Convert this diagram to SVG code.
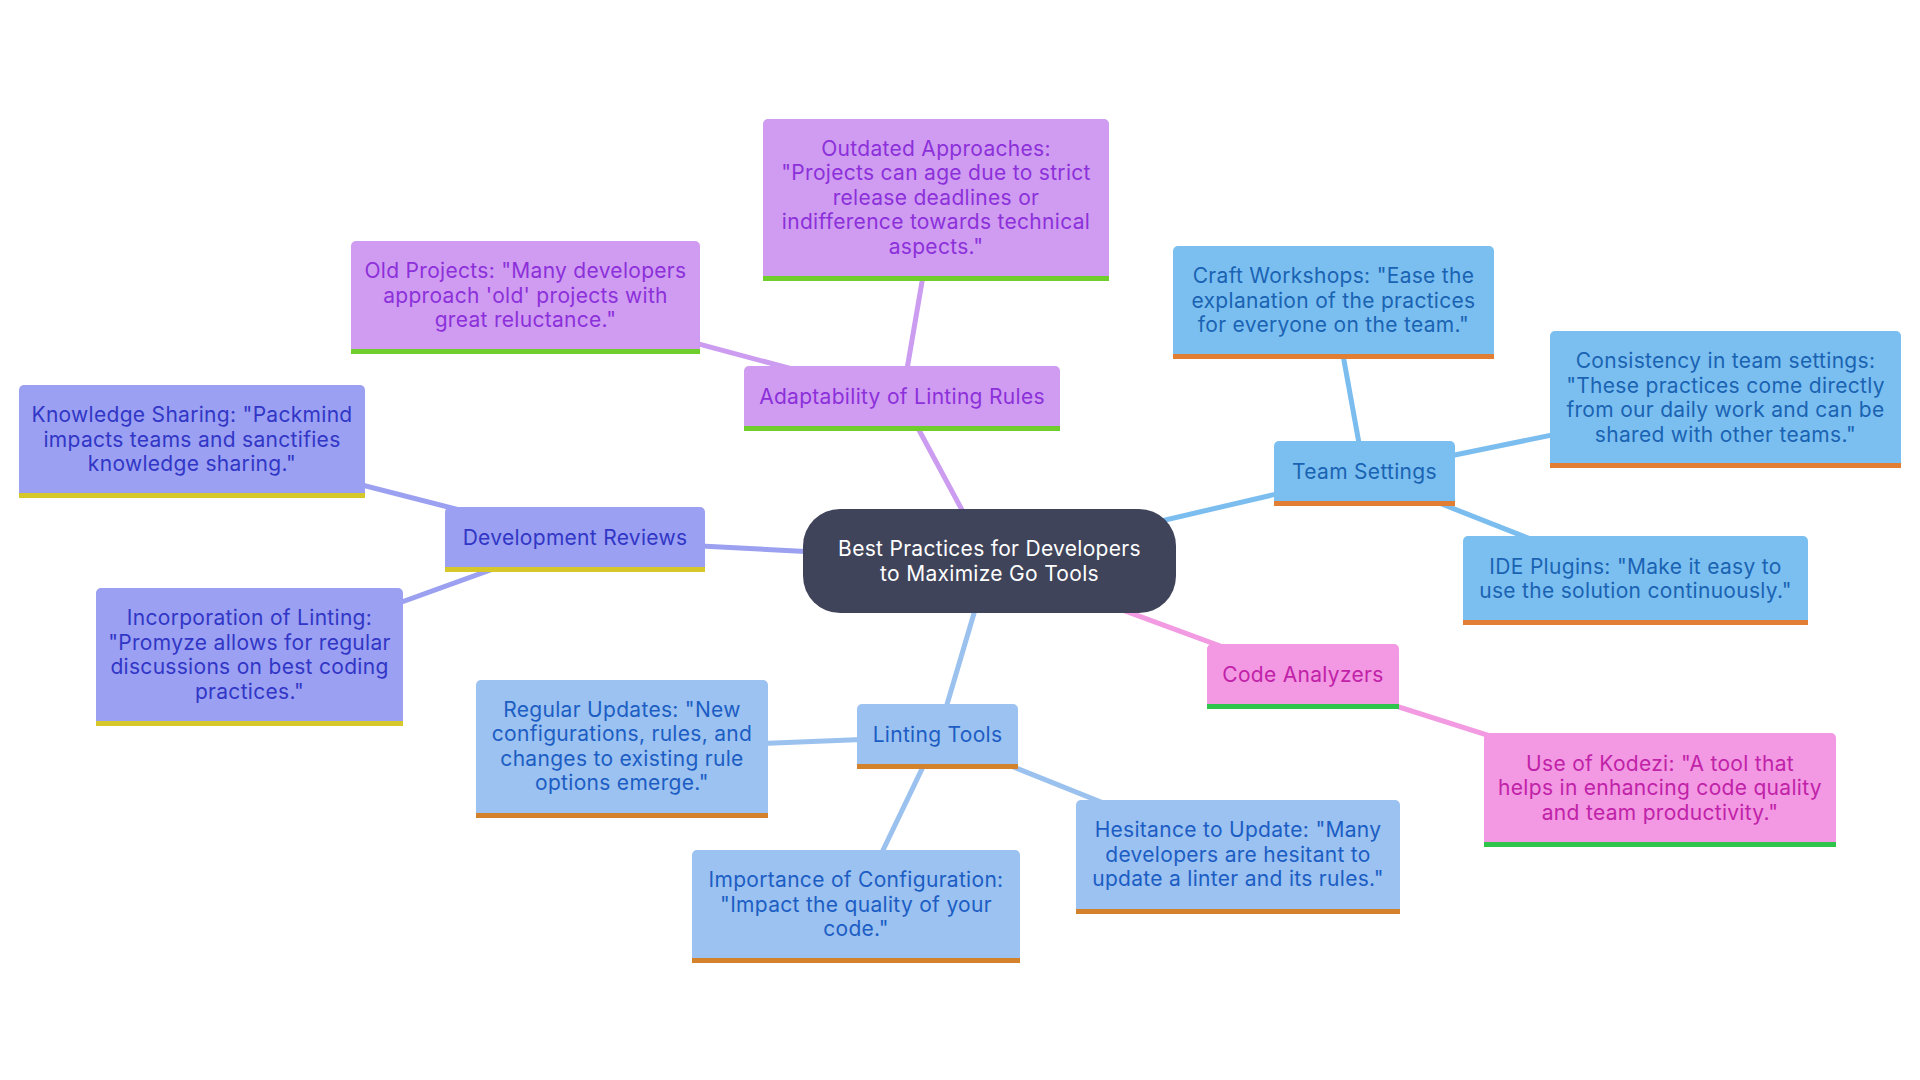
<svg xmlns="http://www.w3.org/2000/svg" width="1920" height="1080" viewBox="0 0 1920 1080">
<style>
text{font-family:Inter,"Noto Sans","Liberation Sans",sans-serif;font-size:21px;letter-spacing:0.3px;text-anchor:middle}
.c{stroke-width:5;fill:none;stroke-linecap:round}
.cp{stroke:#cb9cf0}.ct{stroke:#7bbdef}.cl{stroke:#9bc1ee}.cd{stroke:#9ba0f0}.ck{stroke:#f29ae2}
.fp{fill:#cf9cf1}.tp{fill:#8c30da}.bp{fill:#6fcd2c}
.ft{fill:#7bbff1}.tt{fill:#1a63b2}.bt{fill:#e27e34}
.fl{fill:#9bc2f0}.tl{fill:#1c5dc4}.bl{fill:#d3822b}
.fd{fill:#9ba0f2}.td{fill:#3136c6}.bd{fill:#d6c72b}
.fk{fill:#f398e3}.tk{fill:#c022a8}.bk{fill:#2fc44c}
.fc{fill:#40445a}.tc{fill:#ffffff}
</style>
<rect width="1920" height="1080" fill="#ffffff"/>
<g id="connectors">
<line class="c cp" x1="989.5" y1="561" x2="902" y2="398.5"/>
<line class="c cp" x1="902" y1="398.5" x2="936" y2="200"/>
<line class="c cp" x1="902" y1="398.5" x2="525.5" y2="297.5"/>
<line class="c ct" x1="989.5" y1="561" x2="1364.5" y2="473.5"/>
<line class="c ct" x1="1364.5" y1="473.5" x2="1333.5" y2="302.5"/>
<line class="c ct" x1="1364.5" y1="473.5" x2="1725.5" y2="399.5"/>
<line class="c ct" x1="1364.5" y1="473.5" x2="1635.5" y2="580.5"/>
<line class="c ck" x1="989.5" y1="561" x2="1303" y2="676.5"/>
<line class="c ck" x1="1303" y1="676.5" x2="1660" y2="790"/>
<line class="c cl" x1="989.5" y1="561" x2="937.5" y2="736.5"/>
<line class="c cl" x1="937.5" y1="736.5" x2="622" y2="749"/>
<line class="c cl" x1="937.5" y1="736.5" x2="856" y2="906.5"/>
<line class="c cl" x1="937.5" y1="736.5" x2="1238" y2="857"/>
<line class="c cd" x1="989.5" y1="561" x2="575" y2="539.5"/>
<line class="c cd" x1="575" y1="539.5" x2="192" y2="441.5"/>
<line class="c cd" x1="575" y1="539.5" x2="249.5" y2="657"/>
</g>
<g id="center">
<rect class="fc" x="803" y="509" width="373" height="104" rx="37"/>
<text class="tc"><tspan x="989.5" y="556">Best Practices for Developers</tspan><tspan x="989.5" y="580.5">to Maximize Go Tools</tspan></text>
</g>
<g id="adaptability">
<rect class="fp" x="744" y="366" width="316" height="65" rx="5"/><rect class="bp" x="744" y="426" width="316" height="5"/>
<text class="tp"><tspan x="902" y="403.5">Adaptability of Linting Rules</tspan></text>
</g>
<g id="outdated">
<rect class="fp" x="763" y="119" width="346" height="162" rx="5"/><rect class="bp" x="763" y="276" width="346" height="5"/>
<text class="tp"><tspan x="936" y="155.5">Outdated Approaches:</tspan><tspan x="936" y="180">"Projects can age due to strict</tspan><tspan x="936" y="204.5">release deadlines or</tspan><tspan x="936" y="229">indifference towards technical</tspan><tspan x="936" y="253.5">aspects."</tspan></text>
</g>
<g id="old-projects">
<rect class="fp" x="351" y="241" width="349" height="113" rx="5"/><rect class="bp" x="351" y="349" width="349" height="5"/>
<text class="tp"><tspan x="525.5" y="278">Old Projects: "Many developers</tspan><tspan x="525.5" y="302.5">approach 'old' projects with</tspan><tspan x="525.5" y="327">great reluctance."</tspan></text>
</g>
<g id="team-settings">
<rect class="ft" x="1274" y="441" width="181" height="65" rx="5"/><rect class="bt" x="1274" y="501" width="181" height="5"/>
<text class="tt"><tspan x="1364.5" y="478.5">Team Settings</tspan></text>
</g>
<g id="craft">
<rect class="ft" x="1173" y="246" width="321" height="113" rx="5"/><rect class="bt" x="1173" y="354" width="321" height="5"/>
<text class="tt"><tspan x="1333.5" y="283">Craft Workshops: "Ease the</tspan><tspan x="1333.5" y="307.5">explanation of the practices</tspan><tspan x="1333.5" y="332">for everyone on the team."</tspan></text>
</g>
<g id="consistency">
<rect class="ft" x="1550" y="331" width="351" height="137" rx="5"/><rect class="bt" x="1550" y="463" width="351" height="5"/>
<text class="tt"><tspan x="1725.5" y="368">Consistency in team settings:</tspan><tspan x="1725.5" y="392.5">"These practices come directly</tspan><tspan x="1725.5" y="417">from our daily work and can be</tspan><tspan x="1725.5" y="441.5">shared with other teams."</tspan></text>
</g>
<g id="ide">
<rect class="ft" x="1463" y="536" width="345" height="89" rx="5"/><rect class="bt" x="1463" y="620" width="345" height="5"/>
<text class="tt"><tspan x="1635.5" y="573.5">IDE Plugins: "Make it easy to</tspan><tspan x="1635.5" y="598">use the solution continuously."</tspan></text>
</g>
<g id="code-analyzers">
<rect class="fk" x="1207" y="644" width="192" height="65" rx="5"/><rect class="bk" x="1207" y="704" width="192" height="5"/>
<text class="tk"><tspan x="1303" y="681.5">Code Analyzers</tspan></text>
</g>
<g id="kodezi">
<rect class="fk" x="1484" y="733" width="352" height="114" rx="5"/><rect class="bk" x="1484" y="842" width="352" height="5"/>
<text class="tk"><tspan x="1660" y="770.5">Use of Kodezi: "A tool that</tspan><tspan x="1660" y="795">helps in enhancing code quality</tspan><tspan x="1660" y="819.5">and team productivity."</tspan></text>
</g>
<g id="linting-tools">
<rect class="fl" x="857" y="704" width="161" height="65" rx="5"/><rect class="bl" x="857" y="764" width="161" height="5"/>
<text class="tl"><tspan x="937.5" y="741.5">Linting Tools</tspan></text>
</g>
<g id="regular">
<rect class="fl" x="476" y="680" width="292" height="138" rx="5"/><rect class="bl" x="476" y="813" width="292" height="5"/>
<text class="tl"><tspan x="622" y="716.5">Regular Updates: "New</tspan><tspan x="622" y="741">configurations, rules, and</tspan><tspan x="622" y="765.5">changes to existing rule</tspan><tspan x="622" y="790">options emerge."</tspan></text>
</g>
<g id="importance">
<rect class="fl" x="692" y="850" width="328" height="113" rx="5"/><rect class="bl" x="692" y="958" width="328" height="5"/>
<text class="tl"><tspan x="856" y="887">Importance of Configuration:</tspan><tspan x="856" y="911.5">"Impact the quality of your</tspan><tspan x="856" y="936">code."</tspan></text>
</g>
<g id="hesitance">
<rect class="fl" x="1076" y="800" width="324" height="114" rx="5"/><rect class="bl" x="1076" y="909" width="324" height="5"/>
<text class="tl"><tspan x="1238" y="837">Hesitance to Update: "Many</tspan><tspan x="1238" y="861.5">developers are hesitant to</tspan><tspan x="1238" y="886">update a linter and its rules."</tspan></text>
</g>
<g id="dev-reviews">
<rect class="fd" x="445" y="507" width="260" height="65" rx="5"/><rect class="bd" x="445" y="567" width="260" height="5"/>
<text class="td"><tspan x="575" y="544.5">Development Reviews</tspan></text>
</g>
<g id="knowledge">
<rect class="fd" x="19" y="385" width="346" height="113" rx="5"/><rect class="bd" x="19" y="493" width="346" height="5"/>
<text class="td"><tspan x="192" y="422">Knowledge Sharing: "Packmind</tspan><tspan x="192" y="446.5">impacts teams and sanctifies</tspan><tspan x="192" y="471">knowledge sharing."</tspan></text>
</g>
<g id="incorporation">
<rect class="fd" x="96" y="588" width="307" height="138" rx="5"/><rect class="bd" x="96" y="721" width="307" height="5"/>
<text class="td"><tspan x="249.5" y="625">Incorporation of Linting:</tspan><tspan x="249.5" y="649.5">"Promyze allows for regular</tspan><tspan x="249.5" y="674">discussions on best coding</tspan><tspan x="249.5" y="698.5">practices."</tspan></text>
</g>
</svg>
